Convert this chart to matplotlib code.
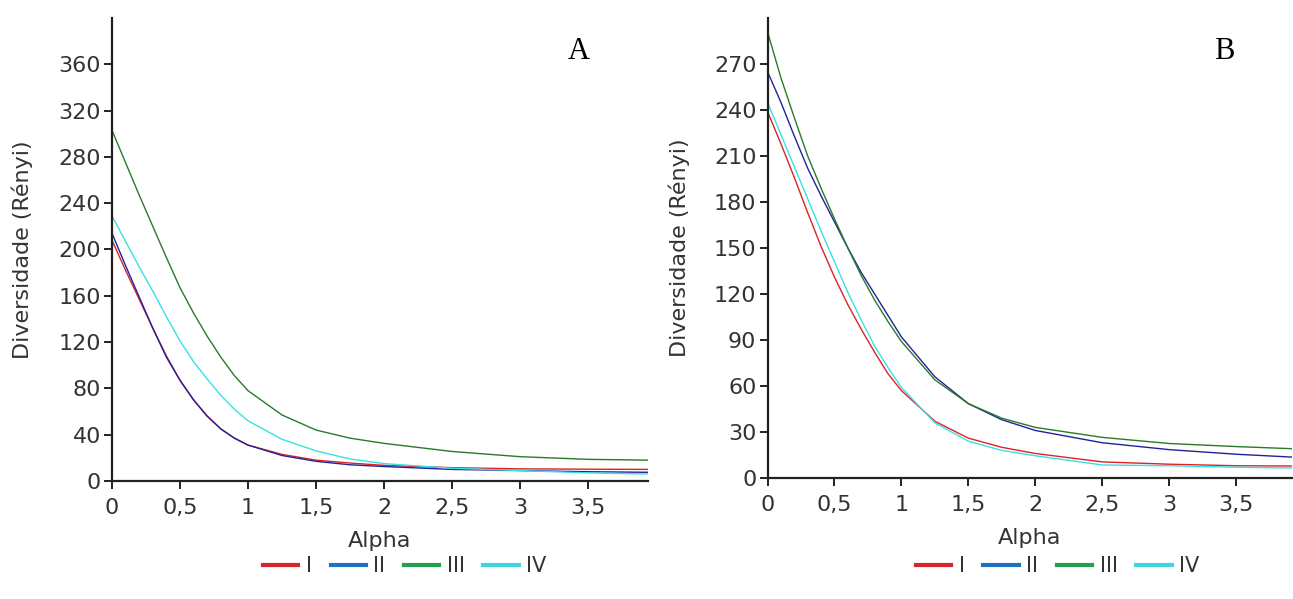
import matplotlib
matplotlib.use("Agg")
import matplotlib.pyplot as plt
from matplotlib.lines import Line2D
from matplotlib.ticker import FuncFormatter

alpha = [0, 0.1, 0.2, 0.3, 0.4, 0.5, 0.6, 0.7, 0.8, 0.9, 1.0,
         1.25, 1.5, 1.75, 2.0, 2.5, 3.0, 3.5, 3.95]

labels = ["I", "II", "III", "IV"]

# panel A
a_I = [208, 182, 157, 132, 108, 87, 70, 56, 45, 37, 31,
       23, 18, 15.5, 13.5, 11.5, 10.5, 10.2, 10]
a_II = [214, 186, 159, 132, 107, 87, 70, 56, 45, 37, 31,
        22, 17, 14, 12.5, 10, 9, 8, 7.5]
a_III = [303, 275, 247, 220, 193, 167, 145, 125, 107, 91, 78,
         57, 44, 37, 32.5, 25.5, 21, 18.7, 18]
a_IV = [229, 207, 185, 164, 142, 121, 103, 88, 74, 62, 52,
        36, 26, 19, 15, 11, 9, 7, 6]

# panel B
b_I = [239, 218, 196, 173, 151, 131, 113, 97, 82, 68, 57,
       37, 26, 20, 16, 10.5, 9, 8, 7.8]
b_II = [265, 245, 223, 202, 184, 167, 150, 134, 120, 106, 92,
        66, 48.5, 38, 31, 23, 18.5, 15.5, 13.5]
b_III = [291, 261, 235, 210, 189, 169, 150, 132, 116, 102, 89,
         64, 48.5, 39, 33, 26.5, 22.5, 20.5, 19]
b_IV = [245, 224, 203, 182, 161, 141, 121, 103, 86, 72, 59,
        36, 24, 18, 14.5, 8.5, 8, 7, 6.5]

line_colors = ["#dd2222", "#22229c", "#2a7a2a", "#38e0e8"]
legend_colors = ["#d9262b", "#1e73be", "#22a050", "#40d4e0"]

TXT = "#333333"
plt.rcParams["font.family"] = ["DejaVu Sans"]

fig = plt.figure(figsize=(12.93, 5.99), dpi=100)

comma = FuncFormatter(lambda v, p: ("%g" % v).replace(".", ","))


def panel(rect, series, ymax, ystep, letter, xmax, legend_x):
    ax = fig.add_axes(rect)
    for vals, c in zip(series, line_colors):
        ax.plot(alpha, vals, color=c, lw=1.0)
    ax.set_xlim(0, xmax)
    ax.set_ylim(0, ymax)
    ax.set_xticks([0, 0.5, 1, 1.5, 2, 2.5, 3, 3.5])
    ax.set_yticks(range(0, int(ymax), ystep))
    ax.xaxis.set_major_formatter(comma)
    for s in ["top", "right"]:
        ax.spines[s].set_visible(False)
    for s in ["left", "bottom"]:
        ax.spines[s].set_linewidth(1.6)
        ax.spines[s].set_color("#222222")
    ax.tick_params(length=6, width=1.4, color="#222222", labelsize=16,
                   labelcolor=TXT, pad=2)
    ax.tick_params(axis="x", pad=6)
    ax.set_xlabel("Alpha", fontsize=16, color=TXT)
    ax.set_ylabel("Diversidade (Rényi)", fontsize=16, color=TXT)
    ax.yaxis.set_label_coords(-0.148, 0.5)
    ax.xaxis.set_label_coords(0.5, -0.108)
    ax.text(0.87, 0.927, letter, transform=ax.transAxes, fontsize=22,
            family="Liberation Serif", ha="center", va="center")
    handles = [Line2D([], [], color=c, lw=3) for c in legend_colors]
    fig.legend(handles, labels, loc="center", bbox_to_anchor=(legend_x, 0.055),
               ncol=4, frameon=False, fontsize=15, handlelength=1.7,
               handletextpad=0.35, columnspacing=0.9, labelcolor=TXT)
    return ax


panel([0.0866, 0.197, 0.4146, 0.773], [a_I, a_II, a_III, a_IV],
      400, 40, "A", 3.94, 0.313)
panel([0.5936, 0.202, 0.4059, 0.768], [b_I, b_II, b_III, b_IV],
      300, 30, "B", 3.92, 0.818)

fig.savefig("out.png", dpi=100)
